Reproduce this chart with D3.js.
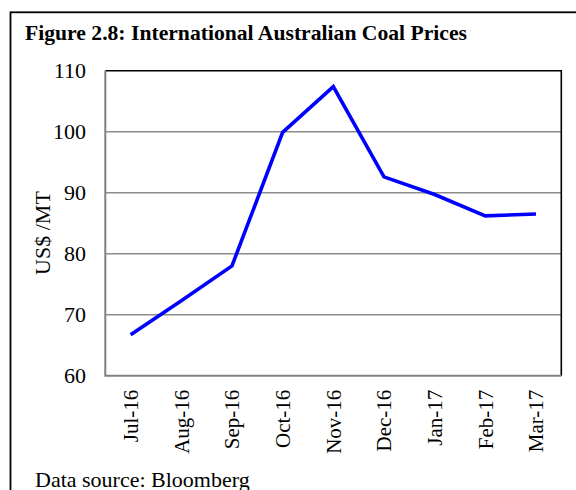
<!DOCTYPE html>
<html>
<head>
<meta charset="utf-8">
<script src="https://cdn.jsdelivr.net/npm/d3@7"></script>
<style>
  html, body { margin: 0; padding: 0; background: #fff; }
  svg { display: block; }
  text { font-family: "Liberation Serif", "Times New Roman", serif; fill: #000; }
</style>
</head>
<body>
<script>
const categories = ["Jul-16", "Aug-16", "Sep-16", "Oct-16", "Nov-16", "Dec-16", "Jan-17", "Feb-17", "Mar-17"];
const prices = [66.7, 72.3, 78.0, 99.9, 107.4, 92.6, 89.7, 86.2, 86.5];
const yTicks = [60, 70, 80, 90, 100, 110];
const titleText = "Figure 2.8: International Australian Coal Prices";
const yTitle = "US$ /MT";
const sourceText = "Data source: Bloomberg";

const W = 576, H = 490;
const plot = { left: 105.3, right: 561.3, top: 70.7, bottom: 375.7 };

const svg = d3.select("body").append("svg").attr("width", W).attr("height", H);

// outer frame
svg.append("rect")
  .attr("x", 10.5).attr("y", 12.3)
  .attr("width", 700).attr("height", 700)
  .attr("fill", "none").attr("stroke", "#000").attr("stroke-width", 1.8);

// title
svg.append("text")
  .attr("x", 25).attr("y", 40)
  .attr("font-size", 22).attr("font-weight", "bold")
  .attr("textLength", 442).attr("lengthAdjust", "spacingAndGlyphs")
  .text(titleText);

const x = d3.scalePoint().domain(categories).range([plot.left, plot.right]).padding(0.5);
const y = d3.scaleLinear().domain([60, 110]).range([plot.bottom, plot.top]);

// gridlines
svg.append("g").selectAll("line")
  .data(yTicks.filter(t => t > 60 && t < 110))
  .join("line")
  .attr("x1", plot.left).attr("x2", plot.right)
  .attr("y1", d => y(d)).attr("y2", d => y(d))
  .attr("stroke", "#8c8c8c").attr("stroke-width", 1.6);

// plot border: top and right black
svg.append("path")
  .attr("d", `M${plot.left},${y(110)} H${plot.right} V${plot.bottom}`)
  .attr("fill", "none").attr("stroke", "#000").attr("stroke-width", 1.6);

// left and bottom axes grey
svg.append("path")
  .attr("d", `M${plot.left},${y(110)} V${plot.bottom} H${plot.right}`)
  .attr("fill", "none").attr("stroke", "#808080").attr("stroke-width", 2);

// y tick labels via axis
const yAxis = d3.axisLeft(y).tickValues(yTicks).tickSize(0).tickPadding(19.3).tickFormat(d3.format("d"));
const gy = svg.append("g").attr("transform", `translate(${plot.left},0)`).call(yAxis);
gy.select(".domain").remove();
gy.selectAll("text").attr("font-size", 22).attr("fill", "#000")
  .style("font-family", '"Liberation Serif", "Times New Roman", serif');

// x tick labels via axis (rotated)
const xAxis = d3.axisBottom(x).tickSize(0).tickPadding(0);
const gx = svg.append("g").attr("transform", `translate(0,${plot.bottom})`).call(xAxis);
gx.select(".domain").remove();
gx.selectAll("text")
  .attr("font-size", 21).attr("fill", "#000")
  .style("font-family", '"Liberation Serif", "Times New Roman", serif')
  .attr("text-anchor", "end")
  .attr("transform", "translate(7,14) rotate(-90)")
  .attr("x", 0).attr("y", 0).attr("dy", 0);

// y title
svg.append("text")
  .attr("transform", `translate(50,233) rotate(-90)`)
  .attr("text-anchor", "middle")
  .attr("font-size", 22)
  .text(yTitle);

// line
const line = d3.line().x((d, i) => x(categories[i])).y(d => y(d));
svg.append("path")
  .datum(prices)
  .attr("d", line)
  .attr("fill", "none")
  .attr("stroke", "#0000ff")
  .attr("stroke-width", 3.6)
  .attr("stroke-linejoin", "miter");

// source
svg.append("text")
  .attr("x", 35).attr("y", 486.5)
  .attr("font-size", 22)
  .text(sourceText);
</script>
</body>
</html>
